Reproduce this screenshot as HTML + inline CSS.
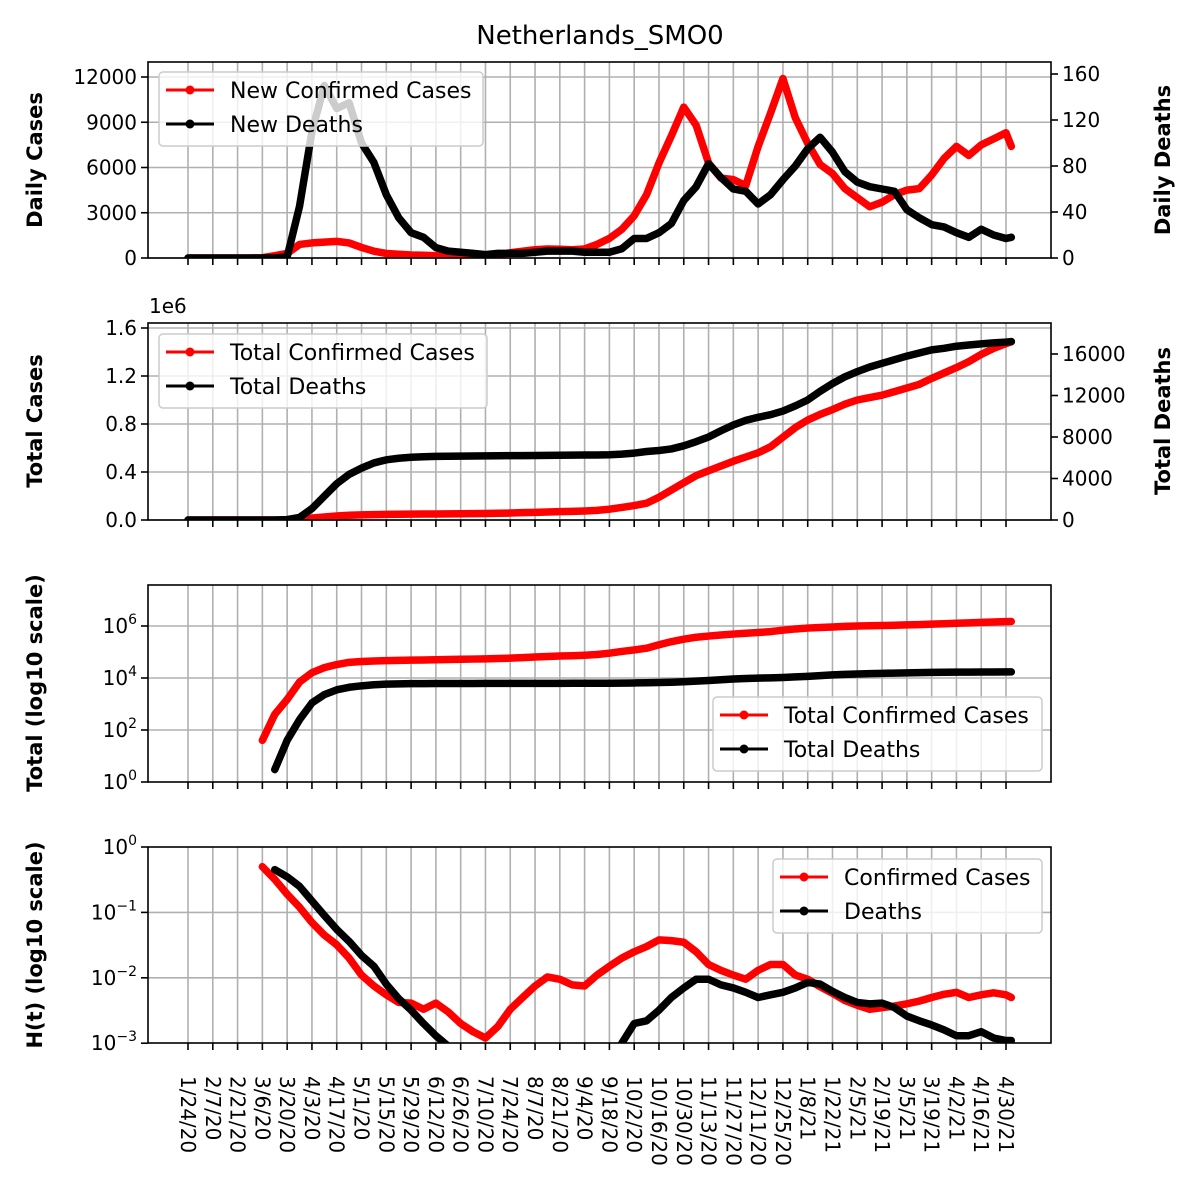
<!DOCTYPE html>
<html><head><meta charset="utf-8"><style>
body{margin:0;background:#fff}
svg{display:block;font-family:"DejaVu Sans","Liberation Sans",sans-serif}
</style></head><body>
<svg id="chart" width="1200" height="1200" viewBox="0 0 1200 1200" xmlns="http://www.w3.org/2000/svg">
<rect width="1200" height="1200" fill="#fff"/>
<text x="600" y="44" font-size="26" text-anchor="middle">Netherlands_SMO0</text>
<g id="root"></g>
</svg>
<script>
const tickLabels=["1/24/20","2/7/20","2/21/20","3/6/20","3/20/20","4/3/20","4/17/20","5/1/20","5/15/20","5/29/20","6/12/20","6/26/20","7/10/20","7/24/20","8/7/20","8/21/20","9/4/20","9/18/20","10/2/20","10/16/20","10/30/20","11/13/20","11/27/20","12/11/20","12/25/20","1/8/21","1/22/21","2/5/21","2/19/21","3/5/21","3/19/21","4/2/21","4/16/21","4/30/21"];
const sampleDays=[0,7,14,21,28,35,42,49,56,63,70,77,84,91,98,105,112,119,126,133,140,147,154,161,168,175,182,189,196,203,210,217,224,231,238,245,252,259,266,273,280,287,294,301,308,315,322,329,336,343,350,357,364,371,378,385,392,399,406,413,420,427,434,441,448,455,462,465];
const dailyCases=[0,0,0,0,0,0,20,150,300,900,1000,1050,1100,1000,700,450,300,250,200,180,150,100,80,100,130,200,350,450,550,600,580,550,600,900,1300,1900,2800,4200,6300,8100,10000,8800,6300,5300,5200,4800,7400,9600,11900,9300,7600,6200,5600,4600,4000,3400,3700,4200,4500,4600,5500,6600,7400,6800,7500,7900,8300,7400];
const dailyDeaths=[0,0,0,0,0,0,0,0,1,45,110,150,130,135,100,83,55,35,22,18,9,6,5,4,3,4,4,4,5,6,6,6,5,5,5,8,17,17,22,30,50,62,82,70,60,58,47,55,68,80,95,105,92,75,66,62,60,58,42,35,29,27,22,18,25,20,17,18];
const totalCases=[0,0,0,0,0,0,40,400,1500,7000,16000,25000,33000,40000,43000,45000,46500,47500,48500,49500,50500,51500,52500,53500,54500,56000,58000,61000,64000,67000,70000,72000,75000,80000,90000,105000,120000,140000,190000,250000,310000,370000,410000,450000,490000,525000,560000,610000,690000,770000,833000,880000,920000,965000,1000000,1020000,1040000,1070000,1100000,1130000,1180000,1225000,1270000,1320000,1380000,1430000,1470000,1485000];
const totalDeaths=[0,0,0,0,0,0,0,3,40,250,1100,2300,3500,4400,5000,5500,5800,5950,6050,6100,6130,6150,6160,6170,6180,6190,6200,6210,6220,6230,6240,6250,6260,6270,6290,6350,6450,6600,6700,6850,7150,7550,8000,8600,9160,9600,9900,10150,10500,11000,11570,12400,13150,13800,14300,14750,15100,15450,15800,16100,16400,16550,16750,16870,16980,17070,17150,17200];
const hCases=[null,null,null,null,null,null,0.5,0.32,0.19,0.12,0.07,0.045,0.032,0.02,0.011,0.0075,0.0055,0.0042,0.0041,0.0033,0.0041,0.003,0.002,0.0015,0.0012,0.0018,0.0033,0.005,0.0075,0.0103,0.0095,0.0078,0.0075,0.011,0.015,0.02,0.025,0.03,0.038,0.037,0.035,0.025,0.016,0.013,0.011,0.0095,0.013,0.016,0.016,0.011,0.0095,0.0073,0.0058,0.0045,0.0038,0.0033,0.0035,0.0037,0.004,0.0044,0.005,0.0056,0.006,0.005,0.0055,0.0059,0.0055,0.005];
const hDeaths=[null,null,null,null,null,null,null,0.45,0.35,0.25,0.15,0.09,0.055,0.036,0.022,0.015,0.008,0.0048,0.0032,0.002,0.0013,0.0009,null,null,null,null,null,null,null,null,null,null,null,null,null,0.001,0.002,0.0022,0.0032,0.005,0.007,0.0095,0.0095,0.0078,0.007,0.006,0.005,0.0055,0.006,0.007,0.0085,0.008,0.0062,0.005,0.0042,0.004,0.0041,0.0035,0.0026,0.0022,0.0019,0.0016,0.0013,0.0013,0.0015,0.0012,0.0011,0.0011];

const NS="http://www.w3.org/2000/svg";
const root=document.getElementById('root');
function mk(tag,attrs,parent){const e=document.createElementNS(NS,tag);for(const k in attrs)e.setAttribute(k,attrs[k]);(parent||root).appendChild(e);return e;}
const L=148,R=1051;
const xDay=d=>188+d*1.7706;
const panels=[{t:62,b:258},{t:323,b:520},{t:585,b:782},{t:847,b:1043}];
const y1L=v=>258-v*181/12000, y1R=v=>258-v*184/160;
const y2L=v=>520-v/1e6*120, y2R=v=>520-v*0.010375;
const y3=v=>782-Math.log10(v)*26;
const y4=v=>847-Math.log10(v)*65.4;

function grid(p,ys){
  const g=mk('g',{});
  
  
  tickLabels.forEach((l,i)=>{const x=xDay(i*14);mk('line',{x1:x,x2:x,y1:p.t,y2:p.b,stroke:'#b0b0b0','stroke-width':1.6},g);});
  ys.forEach(y=>mk('line',{x1:L,x2:R,y1:y,y2:y,stroke:'#b0b0b0','stroke-width':1.6},g));
}
function frame(p,i){
  const g=mk('g',{});
  
  
  tickLabels.forEach((l,k)=>{const x=xDay(k*14);mk('line',{x1:x,x2:x,y1:p.b,y2:p.b+7,stroke:'#000','stroke-width':1.6},g);});
  const r=mk('rect',{x:L,y:p.t,width:R-L,height:p.b-p.t,fill:'none',stroke:'#000','stroke-width':1.6});
  
  
}
function yTicks(side,list,name){
  const g=mk('g',{});
  
  
  list.forEach(([y,txt,sup])=>{
    if(side==='L'){mk('line',{x1:L-7,x2:L,y1:y,y2:y,stroke:'#000','stroke-width':1.6},g);}
    else{mk('line',{x1:R,x2:R+7,y1:y,y2:y,stroke:'#000','stroke-width':1.6},g);}
    const t=mk('text',{x:side==='L'?L-11:R+11,y:y+7,'font-size':20,'text-anchor':side==='L'?'end':'start'},g);
    t.textContent=txt;
    if(sup){const s=mk('tspan',{'font-size':14,dy:-9},t);s.textContent=sup;}
  });
}
function axisLabel(x,y,txt,name){
  const t=mk('text',{x:x,y:y,'font-size':21,'font-weight':'bold','text-anchor':'middle',transform:`rotate(-90 ${x} ${y})`});
  
  
  t.textContent=txt;
}
function series(p,vals,yf,color,name,id){
  const cp=mk('clipPath',{id:'cp'+id});
  mk('rect',{x:L,y:p.t,width:R-L,height:p.b-p.t},cp);
  const segs=[];let cur=[];
  vals.forEach((v,i)=>{if(v===null||v===undefined||(yf===y3&&v<=0)){if(cur.length)segs.push(cur);cur=[];}else cur.push([xDay(sampleDays[i]),yf(v)]);});
  if(cur.length)segs.push(cur);
  const g=mk('g',{'clip-path':`url(#cp${id})`});
  
  
  segs.forEach(s=>{
    const pl=mk('polyline',{points:s.map(q=>q.join(',')).join(' '),fill:'none',stroke:color,'stroke-width':7.5,'stroke-linejoin':'round','stroke-linecap':'round'},g);
    
    
  });
}
function legend(x,y,w,h,items,name){
  const g=mk('g',{});
  
  
  mk('rect',{x:x,y:y,width:w,height:h,rx:4,fill:'#fff','fill-opacity':0.8,stroke:'#cccccc','stroke-width':1.5},g);
  items.forEach(([c,txt],i)=>{
    const cy=y+18+i*34;
    mk('line',{x1:x+7,x2:x+55,y1:cy,y2:cy,stroke:c,'stroke-width':3},g);
    mk('circle',{cx:x+31,cy:cy,r:4.5,fill:c},g);
    const t=mk('text',{x:x+71,y:cy+8,'font-size':22},g);
    
    
    t.textContent=txt;
  });
}

const p1=panels[0];
grid(p1,[0,3000,6000,9000,12000].map(y1L));
series(p1,dailyCases,y1L,'#ff0000','new-cases-series','a');
series(p1,dailyDeaths,y1R,'#000','new-deaths-series','b');
frame(p1,0);
yTicks('L',[0,3000,6000,9000,12000].map(v=>[y1L(v),String(v)]),'y-axis-daily-cases');
yTicks('R',[0,40,80,120,160].map(v=>[y1R(v),String(v)]),'y-axis-daily-deaths');
axisLabel(42,160,'Daily Cases','y-axis-title-daily-cases');
axisLabel(1170,160,'Daily Deaths','y-axis-title-daily-deaths');
legend(159,72,324,74,[['#ff0000','New Confirmed Cases'],['#000','New Deaths']],'legend-daily');

const p2=panels[1];
grid(p2,[0,0.4,0.8,1.2,1.6].map(v=>y2L(v*1e6)));
series(p2,totalCases,y2L,'#ff0000','total-cases-series','c');
series(p2,totalDeaths,y2R,'#000','total-deaths-series','d');
frame(p2,1);
yTicks('L',[0,0.4,0.8,1.2,1.6].map(v=>[y2L(v*1e6),v.toFixed(1)]),'y-axis-total-cases');
yTicks('R',[0,4000,8000,12000,16000].map(v=>[y2R(v),String(v)]),'y-axis-total-deaths');
{const t=mk('text',{x:149,y:313,'font-size':20});t.textContent='1e6';}
axisLabel(42,421,'Total Cases','y-axis-title-total-cases');
axisLabel(1170,421,'Total Deaths','y-axis-title-total-deaths');
legend(159,334,328,74,[['#ff0000','Total Confirmed Cases'],['#000','Total Deaths']],'legend-total');

const p3=panels[2];
grid(p3,[1e2,1e4,1e6].map(y3));
series(p3,totalCases,y3,'#ff0000','log-total-cases-series','e');
series(p3,totalDeaths,y3,'#000','log-total-deaths-series','f');
frame(p3,2);
yTicks('L',[[0,'0'],[2,'2'],[4,'4'],[6,'6']].map(([e,s])=>[y3(Math.pow(10,e)),'10',s]),'y-axis-log-total');
axisLabel(42,683,'Total (log10 scale)','y-axis-title-log-total');
legend(713,697,329,74,[['#ff0000','Total Confirmed Cases'],['#000','Total Deaths']],'legend-log-total');

const p4=panels[3];
grid(p4,[1e-1,1e-2].map(y4));
series(p4,hCases,y4,'#ff0000','h-cases-series','g');
series(p4,hDeaths,y4,'#000','h-deaths-series','h');
frame(p4,3);
yTicks('L',[[0,'0'],[-1,'−1'],[-2,'−2'],[-3,'−3']].map(([e,s])=>[y4(Math.pow(10,e)),'10',s]),'y-axis-h');
axisLabel(42,945,'H(t) (log10 scale)','y-axis-title-h');
legend(773,859,269,74,[['#ff0000','Confirmed Cases'],['#000','Deaths']],'legend-h');

const xl=mk('g',{});


tickLabels.forEach((l,i)=>{
  const x=xDay(i*14)-7,y=1076;
  const t=mk('text',{x:x,y:y,'font-size':20,transform:`rotate(90 ${x} ${y})`},xl);
  
  
  t.textContent=l;
});
</script>
</body></html>
